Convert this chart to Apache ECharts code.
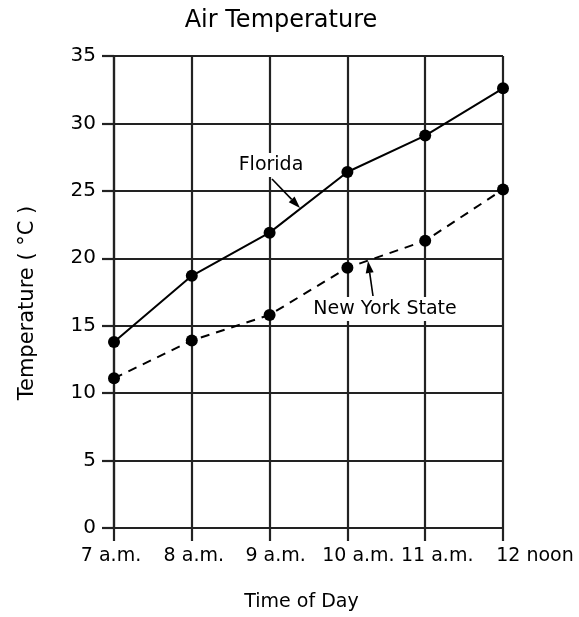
<!DOCTYPE html>
<html>
<head>
<meta charset="utf-8">
<script src="https://cdn.jsdelivr.net/npm/echarts@6/dist/echarts.min.js"></script>
<style>html,body{margin:0;padding:0;background:#fff;}#c{width:579px;height:617px;}</style>
</head>
<body>
<div id="c"></div>
<script>
const categories = ['7 a.m.', '8 a.m.', '9 a.m.', '10 a.m.', '11 a.m.', '12 noon'];
const florida = [13.8, 18.7, 21.9, 26.4, 29.1, 32.6];
const newYork = [11.1, 13.9, 15.8, 19.3, 21.3, 25.1];
const yTicks = [0, 5, 10, 15, 20, 25, 30, 35];

const FONT = 'DejaVu Sans';
const INK = '#000';
// small horizontal nudges of the tick labels, as in the scanned original
const labelShift = [-3, 2, 6, 11, 12, 32];

function arrow(x1, y1, x2, y2) {
  const dx = x2 - x1, dy = y2 - y1;
  const len = Math.sqrt(dx * dx + dy * dy);
  const ux = dx / len, uy = dy / len;
  const hl = 12, hw = 4;
  const bx = x2 - ux * hl, by = y2 - uy * hl;
  return [
    { type: 'line', shape: { x1: x1, y1: y1, x2: bx, y2: by }, style: { stroke: INK, lineWidth: 1.6 } },
    { type: 'polygon', shape: { points: [[x2, y2], [bx - uy * hw, by + ux * hw], [bx + uy * hw, by - ux * hw]] }, style: { fill: INK } }
  ];
}

const rich = {};
labelShift.forEach(function (s, i) {
  rich['l' + i] = { fontFamily: FONT, fontSize: 19, color: INK, padding: s >= 0 ? [0, 0, 0, 2 * s] : [0, -2 * s, 0, 0] };
});

const chart = echarts.init(document.getElementById('c'), null, { renderer: 'canvas' });
chart.setOption({
  backgroundColor: '#fff',
  animation: false,
  grid: { left: 114, right: 76, top: 56, bottom: 88, containLabel: false },
  xAxis: {
    type: 'category',
    data: categories,
    boundaryGap: false,
    name: 'Time of Day',
    nameLocation: 'middle',
    nameGap: 65,
    nameTextStyle: { fontFamily: FONT, fontSize: 19, color: INK, padding: [0, 14, 0, 0] },
    axisLine: { lineStyle: { color: '#222', width: 2.2 } },
    axisTick: { show: true, length: 13, alignWithLabel: true, lineStyle: { color: '#222', width: 2.2 } },
    axisLabel: {
      margin: 19, interval: 0, fontFamily: FONT, fontSize: 19, color: INK,
      formatter: function (v, i) { return '{l' + i + '|' + v + '}'; },
      rich: rich
    },
    splitLine: { show: true, lineStyle: { color: '#222', width: 2.2 } }
  },
  yAxis: {
    type: 'value',
    min: yTicks[0],
    max: yTicks[yTicks.length - 1],
    interval: 5,
    name: 'Temperature ( °C )',
    nameLocation: 'middle',
    nameGap: 76,
    nameTextStyle: { fontFamily: FONT, fontSize: 21, color: INK, padding: [0, 22, 0, 0] },
    axisLine: { show: true, lineStyle: { color: '#222', width: 2.2 } },
    axisTick: { show: true, length: 12, lineStyle: { color: '#222', width: 2.2 } },
    axisLabel: { margin: 18, fontFamily: FONT, fontSize: 20, color: INK },
    splitLine: { show: true, lineStyle: { color: '#222', width: 2.2 } }
  },
  series: [
    {
      name: 'Florida',
      type: 'line',
      data: florida,
      symbol: 'circle',
      symbolSize: 12,
      itemStyle: { color: '#000' },
      lineStyle: { color: '#000', width: 2, type: 'solid' },
      z: 5
    },
    {
      name: 'New York State',
      type: 'line',
      data: newYork,
      symbol: 'circle',
      symbolSize: 12,
      itemStyle: { color: '#000' },
      lineStyle: { color: '#000', width: 2, type: [9, 7] },
      z: 5
    }
  ],
  graphic: [
    { type: 'text', x: 281, y: 21, style: { text: 'Air Temperature', font: '24px "' + FONT + '"', fill: INK, align: 'center', verticalAlign: 'middle' } },
    { type: 'rect', shape: { x: 234, y: 153, width: 76, height: 24 }, style: { fill: '#fff' }, z: 9 },
    { type: 'text', x: 271, y: 165, style: { text: 'Florida', font: '19px "' + FONT + '"', fill: INK, align: 'center', verticalAlign: 'middle' } },
    { type: 'rect', shape: { x: 301, y: 297, width: 168, height: 24 }, style: { fill: '#fff' }, z: 9 },
    { type: 'text', x: 385, y: 309, style: { text: 'New York State', font: '19px "' + FONT + '"', fill: INK, align: 'center', verticalAlign: 'middle' } }
  ].concat(arrow(272, 179, 300, 208), arrow(373, 296, 368, 261)).map(function (g) { if (g.z === undefined) g.z = 10; return g; })
});
</script>
</body>
</html>
